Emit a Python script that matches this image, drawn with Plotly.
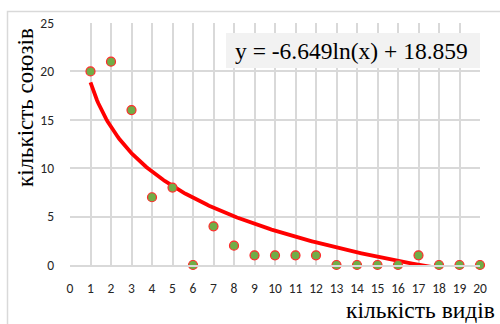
import numpy as np
import plotly.graph_objects as go

# number of species vs number of associations
species = list(range(1, 21))
unions = [20, 21, 16, 7, 8, 0, 4, 2, 1, 1, 1, 1, 0, 0, 0, 0, 1, 0, 0, 0]

# logarithmic trend y = a*ln(x) + b
coef_a = -6.649
coef_b = 18.859
x_ticks = list(range(0, 21))
y_ticks = [0, 5, 10, 15, 20, 25]

xs = np.linspace(1, 20, 300)
trend = coef_a * np.log(xs) + coef_b

W, H = 500, 324
L, R, T, B = 70, 20, 23, 59
pw, ph = W - L - R, H - T - B

def px(x):
    return (x - L) / pw

def py(y):
    return (H - B - y) / ph

SERIF = "'Times New Roman', 'Liberation Serif', serif"
SANS = "Calibri, 'Open Sans', 'Liberation Sans', sans-serif"

fig = go.Figure()
fig.add_trace(go.Scatter(
    x=xs, y=trend, mode="lines",
    line=dict(color="#ff0000", width=3.8),
    hoverinfo="skip", cliponaxis=True,
))
fig.add_trace(go.Scatter(
    x=species, y=unions, mode="markers",
    marker=dict(size=9, color="#70ad47", line=dict(color="#ff2a2a", width=1.2)),
    cliponaxis=False,
))

grid = "#d9d9d9"
fig.update_layout(
    width=W, height=H,
    margin=dict(l=L, r=R, t=T, b=B),
    plot_bgcolor="white", paper_bgcolor="white",
    showlegend=False,
    xaxis=dict(
        range=[0, 20], tickvals=x_ticks, showgrid=True, gridcolor=grid, gridwidth=1.5,
        zeroline=False, showline=True, linecolor=grid, linewidth=1.5, mirror=False,
        ticks="", tickfont=dict(family=SANS, size=13.5, color="#262626"),
        ticklabelstandoff=10,
    ),
    yaxis=dict(
        range=[0, 25], tickvals=y_ticks, showgrid=True, gridcolor=grid, gridwidth=1.5,
        zeroline=False, showline=False, ticks="",
        tickfont=dict(family=SANS, size=13.5, color="#262626"),
        ticklabelstandoff=15,
    ),
    shapes=[
        # chart frame (left and top edges)
        dict(type="path", xref="paper", yref="paper",
             path=f"M {px(7.5)},{py(330)} L {px(7.5)},{py(11.5)} L {px(505)},{py(11.5)}",
             line=dict(color="#d9d9d9", width=1.5)),
        # equation box background
        dict(type="rect", xref="paper", yref="paper",
             x0=px(226), x1=px(480), y0=py(68), y1=py(33),
             fillcolor="#f2f2f2", line=dict(width=0)),
    ],
    annotations=[
        dict(text="y = -6.649ln(x) + 18.859", xref="paper", yref="paper",
             x=px(351.5), y=py(50.5), xanchor="center", yanchor="middle", showarrow=False,
             font=dict(family=SERIF, size=23.5, color="#000000")),
        dict(text="кількість союзів", xref="paper", yref="paper",
             x=px(25), y=py(108), xanchor="center", yanchor="middle", showarrow=False,
             textangle=-90, font=dict(family=SERIF, size=23, color="#000000")),
        dict(text="кількість видів", xref="paper", yref="paper",
             x=px(420), y=py(310), xanchor="center", yanchor="middle", showarrow=False,
             font=dict(family=SERIF, size=23.5, color="#000000")),
    ],
)

fig.write_html("out.html")
